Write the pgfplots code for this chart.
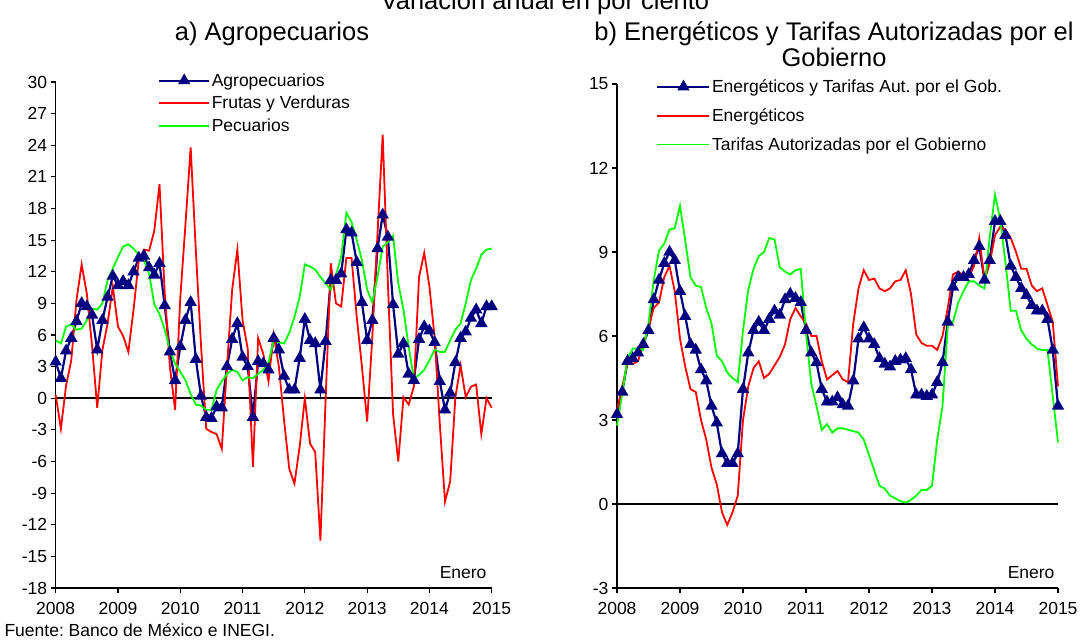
\documentclass[border=0pt]{standalone}
\usepackage{fontspec}
\setmainfont{Liberation Sans}
\usepackage{pgfplots}
\usepackage{pgfplotstable}
\pgfplotsset{compat=1.18}
\frenchspacing
\definecolor{navyb}{RGB}{0,0,128}
\definecolor{redl}{RGB}{255,0,0}
\definecolor{greenl}{RGB}{0,255,0}

% Left panel: month index (0 = Jan 2008), Agropecuarios, Frutas y Verduras, Pecuarios
\pgfplotstableread{
m agro fru pec
0 3.45 0.3 5.5
1 1.9 -2.9 5.2
2 4.5 1.2 6.8
3 5.7 3.6 7.0
4 7.3 9.3 6.5
5 9.0 12.7 6.6
6 8.7 9.9 7.4
7 7.9 5.0 8.5
8 4.6 -0.9 8.4
9 7.4 4.6 9.0
10 9.6 7.1 11.2
11 11.6 10.6 12.3
12 10.7 6.8 13.4
13 11.1 5.9 14.4
14 10.7 4.4 14.6
15 12.0 8.4 14.2
16 13.3 13.1 13.6
17 13.5 14.1 13.1
18 12.4 14.0 11.8
19 11.7 15.9 8.9
20 12.8 20.3 8.0
21 8.8 10.0 6.5
22 4.4 3.0 4.6
23 1.7 -1.1 3.3
24 4.9 9.5 2.5
25 7.4 16.5 1.7
26 9.1 23.8 0.4
27 3.7 14.0 -0.6
28 0.2 5.0 -0.7
29 -1.8 -2.9 -1.1
30 -1.9 -3.2 -1.1
31 -0.8 -3.4 0.8
32 -0.9 -4.8 1.6
33 3.0 3.0 2.3
34 5.6 10.3 2.7
35 7.1 14.1 2.5
36 3.9 7.4 1.7
37 3.0 4.7 2.0
38 -1.8 -6.5 1.9
39 3.5 5.7 2.3
40 3.3 4.2 2.7
41 2.7 1.6 3.4
42 5.7 6.0 5.5
43 4.6 3.0 5.3
44 2.1 -2.1 5.2
45 0.8 -6.7 6.2
46 0.8 -8.1 7.7
47 3.8 -4.6 9.6
48 7.5 0.0 12.7
49 5.5 -4.3 12.5
50 5.2 -5.1 12.2
51 0.8 -13.5 11.5
52 5.4 -0.2 10.9
53 11.2 12.8 10.3
54 11.2 9.0 11.7
55 11.8 8.7 13.4
56 16.0 13.3 17.6
57 15.7 13.3 16.7
58 12.9 7.7 15.0
59 9.1 3.0 13.1
60 5.5 -2.2 10.3
61 7.4 5.8 9.1
62 14.2 15.6 11.5
63 17.4 25.0 14.4
64 15.3 10.9 14.8
65 8.9 -1.5 15.4
66 4.2 -6.0 10.9
67 5.2 0.1 8.4
68 2.3 -0.6 4.9
69 1.7 1.1 1.9
70 5.6 11.5 2.2
71 6.8 13.8 2.7
72 6.4 10.6 3.6
73 5.3 5.8 4.6
74 1.6 -2.4 4.4
75 -1.1 -9.8 4.4
76 0.5 -7.9 5.5
77 3.4 0.1 6.5
78 5.7 3.1 7.1
79 6.3 0.1 9.0
80 7.6 1.1 11.2
81 8.4 1.3 12.3
82 7.1 -3.4 13.6
83 8.7 0.0 14.1
84 8.7 -0.9 14.2
}\tablea

% Right panel: Energeticos y Tarifas, Energeticos, Tarifas Autorizadas
\pgfplotstableread{
m tot ene tar
0 3.2 3.35 2.8
1 4.0 4.2 3.95
2 5.1 5.0 5.2
3 5.2 5.0 5.55
4 5.4 5.1 5.55
5 5.7 5.7 5.5
6 6.2 6.3 6.45
7 7.3 7.0 8.0
8 8.0 7.2 9.05
9 8.6 8.1 9.3
10 9.0 8.5 9.8
11 8.7 7.6 9.85
12 7.6 5.9 10.65
13 6.7 4.9 9.4
14 5.7 4.1 8.1
15 5.5 4.0 7.8
16 4.8 3.0 7.75
17 4.4 2.3 7.0
18 3.5 1.3 6.45
19 2.9 0.7 5.3
20 1.8 -0.3 5.1
21 1.45 -0.75 4.7
22 1.45 -0.3 4.5
23 1.8 0.3 4.35
24 4.1 3.0 6.2
25 5.4 4.2 7.65
26 6.2 4.85 8.4
27 6.5 5.1 8.85
28 6.2 4.5 9.0
29 6.6 4.65 9.5
30 6.9 4.95 9.45
31 6.75 5.25 8.45
32 7.3 5.7 8.3
33 7.5 6.6 8.2
34 7.35 7.0 8.35
35 7.2 6.7 8.4
36 6.2 6.45 6.1
37 5.4 6.0 4.3
38 5.05 6.0 3.5
39 4.1 5.1 2.65
40 3.65 4.45 2.85
41 3.65 4.6 2.55
42 3.8 4.75 2.7
43 3.55 4.45 2.7
44 3.5 4.35 2.65
45 4.4 6.45 2.6
46 5.9 7.7 2.55
47 6.3 8.35 2.3
48 5.9 8.0 1.75
49 5.7 8.05 1.2
50 5.2 7.7 0.65
51 5.0 7.6 0.55
52 4.9 7.7 0.3
53 5.1 7.95 0.2
54 5.15 8.0 0.1
55 5.2 8.35 0.05
56 4.8 7.5 0.15
57 3.9 6.05 0.3
58 3.9 5.75 0.5
59 3.85 5.65 0.5
60 3.9 5.65 0.65
61 4.35 5.5 2.3
62 5.05 6.0 3.5
63 6.5 7.0 6.35
64 7.75 8.2 6.5
65 8.1 8.3 7.2
66 8.1 8.15 7.6
67 8.2 8.1 7.95
68 8.7 8.5 7.95
69 9.2 9.5 7.8
70 8.0 8.0 7.7
71 8.7 8.6 9.55
72 10.1 9.6 11.05
73 10.1 9.9 10.15
74 9.6 9.8 8.6
75 8.5 9.5 6.9
76 8.1 9.0 6.9
77 7.7 8.4 6.2
78 7.45 8.4 5.9
79 7.1 7.8 5.7
80 6.9 7.6 5.55
81 6.9 7.7 5.5
82 6.6 7.1 5.5
83 5.5 6.5 3.85
84 3.5 4.2 2.2
}\tableb

\pgfplotsset{
  panel/.style={
    scale only axis,
    axis lines=left,
    axis line style={-, black, line width=1.5pt},
    tick align=outside,
    major tick length=5pt,
    tick style={black, line width=1.2pt},
    xmin=0, xmax=84,
    xtick={0,12,...,84},
    xticklabels={2008,2009,2010,2011,2012,2013,2014,2015},
    ticklabel style={font=\fontsize{17.5}{20}\selectfont},
    xticklabel style={yshift=-6pt},
    legend cell align=left,
    clip=false,
  },
  blueser/.style={navyb, line width=2.2pt, mark=triangle*, mark size=5pt, mark options={navyb, solid}},
  redser/.style={redl, line width=1.8pt, mark=none},
  greenser/.style={greenl, line width=1.8pt, mark=none},
}

\begin{document}
\begin{tikzpicture}[x=1pt,y=1pt]
\path[use as bounding box] (0,0) rectangle (1090,642);

\node[anchor=base, font=\fontsize{25.5}{27}\selectfont] at (545,632) {Variación anual en por ciento};
\node[anchor=base, font=\fontsize{25.5}{27}\selectfont] at (272,601) {a) Agropecuarios};
\node[anchor=base, font=\fontsize{25.5}{27}\selectfont] at (834,601) {b) Energéticos y Tarifas Autorizadas por el};
\node[anchor=base, font=\fontsize{25.5}{27}\selectfont] at (834,575) {Gobierno};

\begin{axis}[panel,
  at={(55.7pt,54pt)}, anchor=south west,
  width=436pt, height=506pt,
  ymin=-18, ymax=30,
  ytick={-18,-15,...,30},
  yticklabels={-18,-15,-12,-9,-6,-3,0,3,6,9,12,15,18,21,24,27,30},
  legend style={at={(0.2275,1.024)}, anchor=north west, draw=none, fill=none,
    font=\fontsize{17.5}{20}\selectfont, row sep=5.5pt,
    nodes={inner sep=1.5pt}},
]
\draw[black, line width=1.6pt] (axis cs:0,0) -- (axis cs:84,0);
\addplot[blueser, legend image code/.code={\draw[navyb, line width=2.2pt] (0pt,0pt) -- (50pt,0pt); \fill[navyb] (25pt,5pt) -- (20.67pt,-2.5pt) -- (29.33pt,-2.5pt) -- cycle;}] table[x=m, y=agro] {\tablea};
\addlegendentry{Agropecuarios}
\addplot[redser, legend image code/.code={\draw[redl, line width=1.8pt] (0pt,0pt) -- (50pt,0pt);}] table[x=m, y=fru] {\tablea};
\addlegendentry{Frutas y Verduras}
\addplot[greenser, legend image code/.code={\draw[greenl, line width=1.8pt] (0pt,0pt) -- (50pt,0pt);}] table[x=m, y=pec] {\tablea};
\addlegendentry{Pecuarios}
\end{axis}

\begin{axis}[panel,
  at={(617pt,54pt)}, anchor=south west,
  width=441pt, height=504pt,
  ymin=-3, ymax=15,
  ytick={-3,0,...,15},
  yticklabels={-3,0,3,6,9,12,15},
  legend style={at={(0.082,1.016)}, anchor=north west, draw=none, fill=none,
    font=\fontsize{17.5}{20}\selectfont, row sep=11.5pt,
    nodes={inner sep=1.5pt}},
]
\draw[black, line width=1.6pt] (axis cs:0,0) -- (axis cs:84,0);
\addplot[blueser, legend image code/.code={\draw[navyb, line width=2.2pt] (0pt,0pt) -- (52pt,0pt); \fill[navyb] (26pt,5pt) -- (21.67pt,-2.5pt) -- (30.33pt,-2.5pt) -- cycle;}] table[x=m, y=tot] {\tableb};
\addlegendentry{Energéticos y Tarifas Aut. por el Gob.}
\addplot[redser, legend image code/.code={\draw[redl, line width=1.8pt] (0pt,0pt) -- (52pt,0pt);}] table[x=m, y=ene] {\tableb};
\addlegendentry{Energéticos}
\addplot[greenser, legend image code/.code={\draw[greenl, line width=1.8pt] (0pt,0pt) -- (52pt,0pt);}] table[x=m, y=tar] {\tableb};
\addlegendentry{Tarifas Autorizadas por el Gobierno}
\end{axis}

\node[anchor=base east, font=\fontsize{17.5}{20}\selectfont] at (490,63) {Enero};
\node[anchor=base east, font=\fontsize{17.5}{20}\selectfont] at (1058,63) {Enero};
\node[anchor=base west, font=\fontsize{17.5}{20}\selectfont] at (1,5) {Fuente: Banco de México e INEGI.};
\end{tikzpicture}
\end{document}
